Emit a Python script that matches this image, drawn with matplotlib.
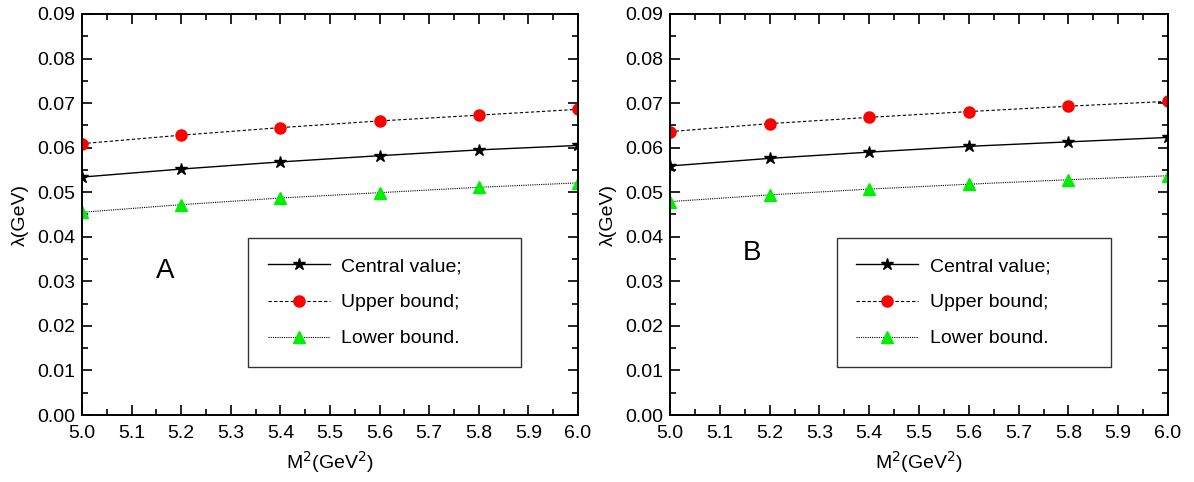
import matplotlib
matplotlib.use("Agg")
import matplotlib.pyplot as plt
from matplotlib.ticker import MultipleLocator, FormatStrFormatter

plt.rcParams['font.family'] = ['Liberation Sans', 'DejaVu Sans']

# M^2 values (GeV^2)
m2 = [5.0, 5.2, 5.4, 5.6, 5.8, 6.0]

# panel A
central_a = [0.0534, 0.0552, 0.0568, 0.0582, 0.0595, 0.0605]
upper_a = [0.0609, 0.0628, 0.0645, 0.0660, 0.0673, 0.0686]
lower_a = [0.0455, 0.0472, 0.0487, 0.0499, 0.0511, 0.0521]

# panel B
central_b = [0.0559, 0.0576, 0.0590, 0.0603, 0.0613, 0.0623]
upper_b = [0.0636, 0.0654, 0.0668, 0.0681, 0.0693, 0.0704]
lower_b = [0.0479, 0.0494, 0.0507, 0.0518, 0.0528, 0.0537]

panels = [("A", central_a, upper_a, lower_a), ("B", central_b, upper_b, lower_b)]

W, H = 1194, 482
fig = plt.figure(figsize=(W / 100, H / 100), dpi=100)
boxes = [(82, 578), (670, 1168)]
top, bottom = 14, 415

for (x0, x1), (name, cen, up, lo) in zip(boxes, panels):
    ax = fig.add_axes([x0 / W, 1 - bottom / H, (x1 - x0) / W, (bottom - top) / H])
    ax.plot(m2, cen, color='black', lw=1, ls='-', marker='*', ms=9,
            mfc='black', mec='black', label='Central value;')
    ax.plot(m2, up, color='black', lw=0.8, ls=(0, (3, 2)), marker='o', ms=8,
            mfc='red', mec='red', label='Upper bound;')
    ax.plot(m2, lo, color='black', lw=0.8, ls=(0, (1, 1)), marker='^', ms=8,
            mfc='#00ee00', mec='#00ee00', label='Lower bound.')

    ax.set_xlim(5.0, 6.0)
    ax.set_ylim(0.0, 0.09)
    ax.xaxis.set_major_locator(MultipleLocator(0.1))
    ax.xaxis.set_minor_locator(MultipleLocator(0.05))
    ax.yaxis.set_major_locator(MultipleLocator(0.01))
    ax.yaxis.set_minor_locator(MultipleLocator(0.005))
    ax.xaxis.set_major_formatter(FormatStrFormatter('%.1f'))
    ax.yaxis.set_major_formatter(FormatStrFormatter('%.2f'))
    ax.tick_params(which='both', direction='in', top=True, right=True, labelsize=14, width=1.2)
    ax.tick_params(which='major', length=7)
    ax.tick_params(which='minor', length=4)
    ax.tick_params(axis='y', which='major', pad=5)
    ax.tick_params(axis='x', which='major', pad=7)
    for s in ax.spines.values():
        s.set_linewidth(1.4)
    ax.set_xlabel(r'M$^2$(GeV$^2$)', fontsize=14, labelpad=5)
    ax.set_ylabel('λ(GeV)', fontsize=14, labelpad=6)

    ax.text(0.167 if name == "A" else 0.165, 0.36 if name == "A" else 0.405, name,
            transform=ax.transAxes, fontsize=20, ha='center', va='center')

    leg = ax.legend(loc='lower left', bbox_to_anchor=(0.335, 0.12, 0.55, 0.33),
                    mode='expand', borderaxespad=0, fontsize=14, frameon=True,
                    fancybox=False, edgecolor='black', handlelength=3.2,
                    labelspacing=0.95, borderpad=1.0, handletextpad=0.6)
    leg.get_frame().set_linewidth(1.0)

fig.savefig('out.png', dpi=100)
